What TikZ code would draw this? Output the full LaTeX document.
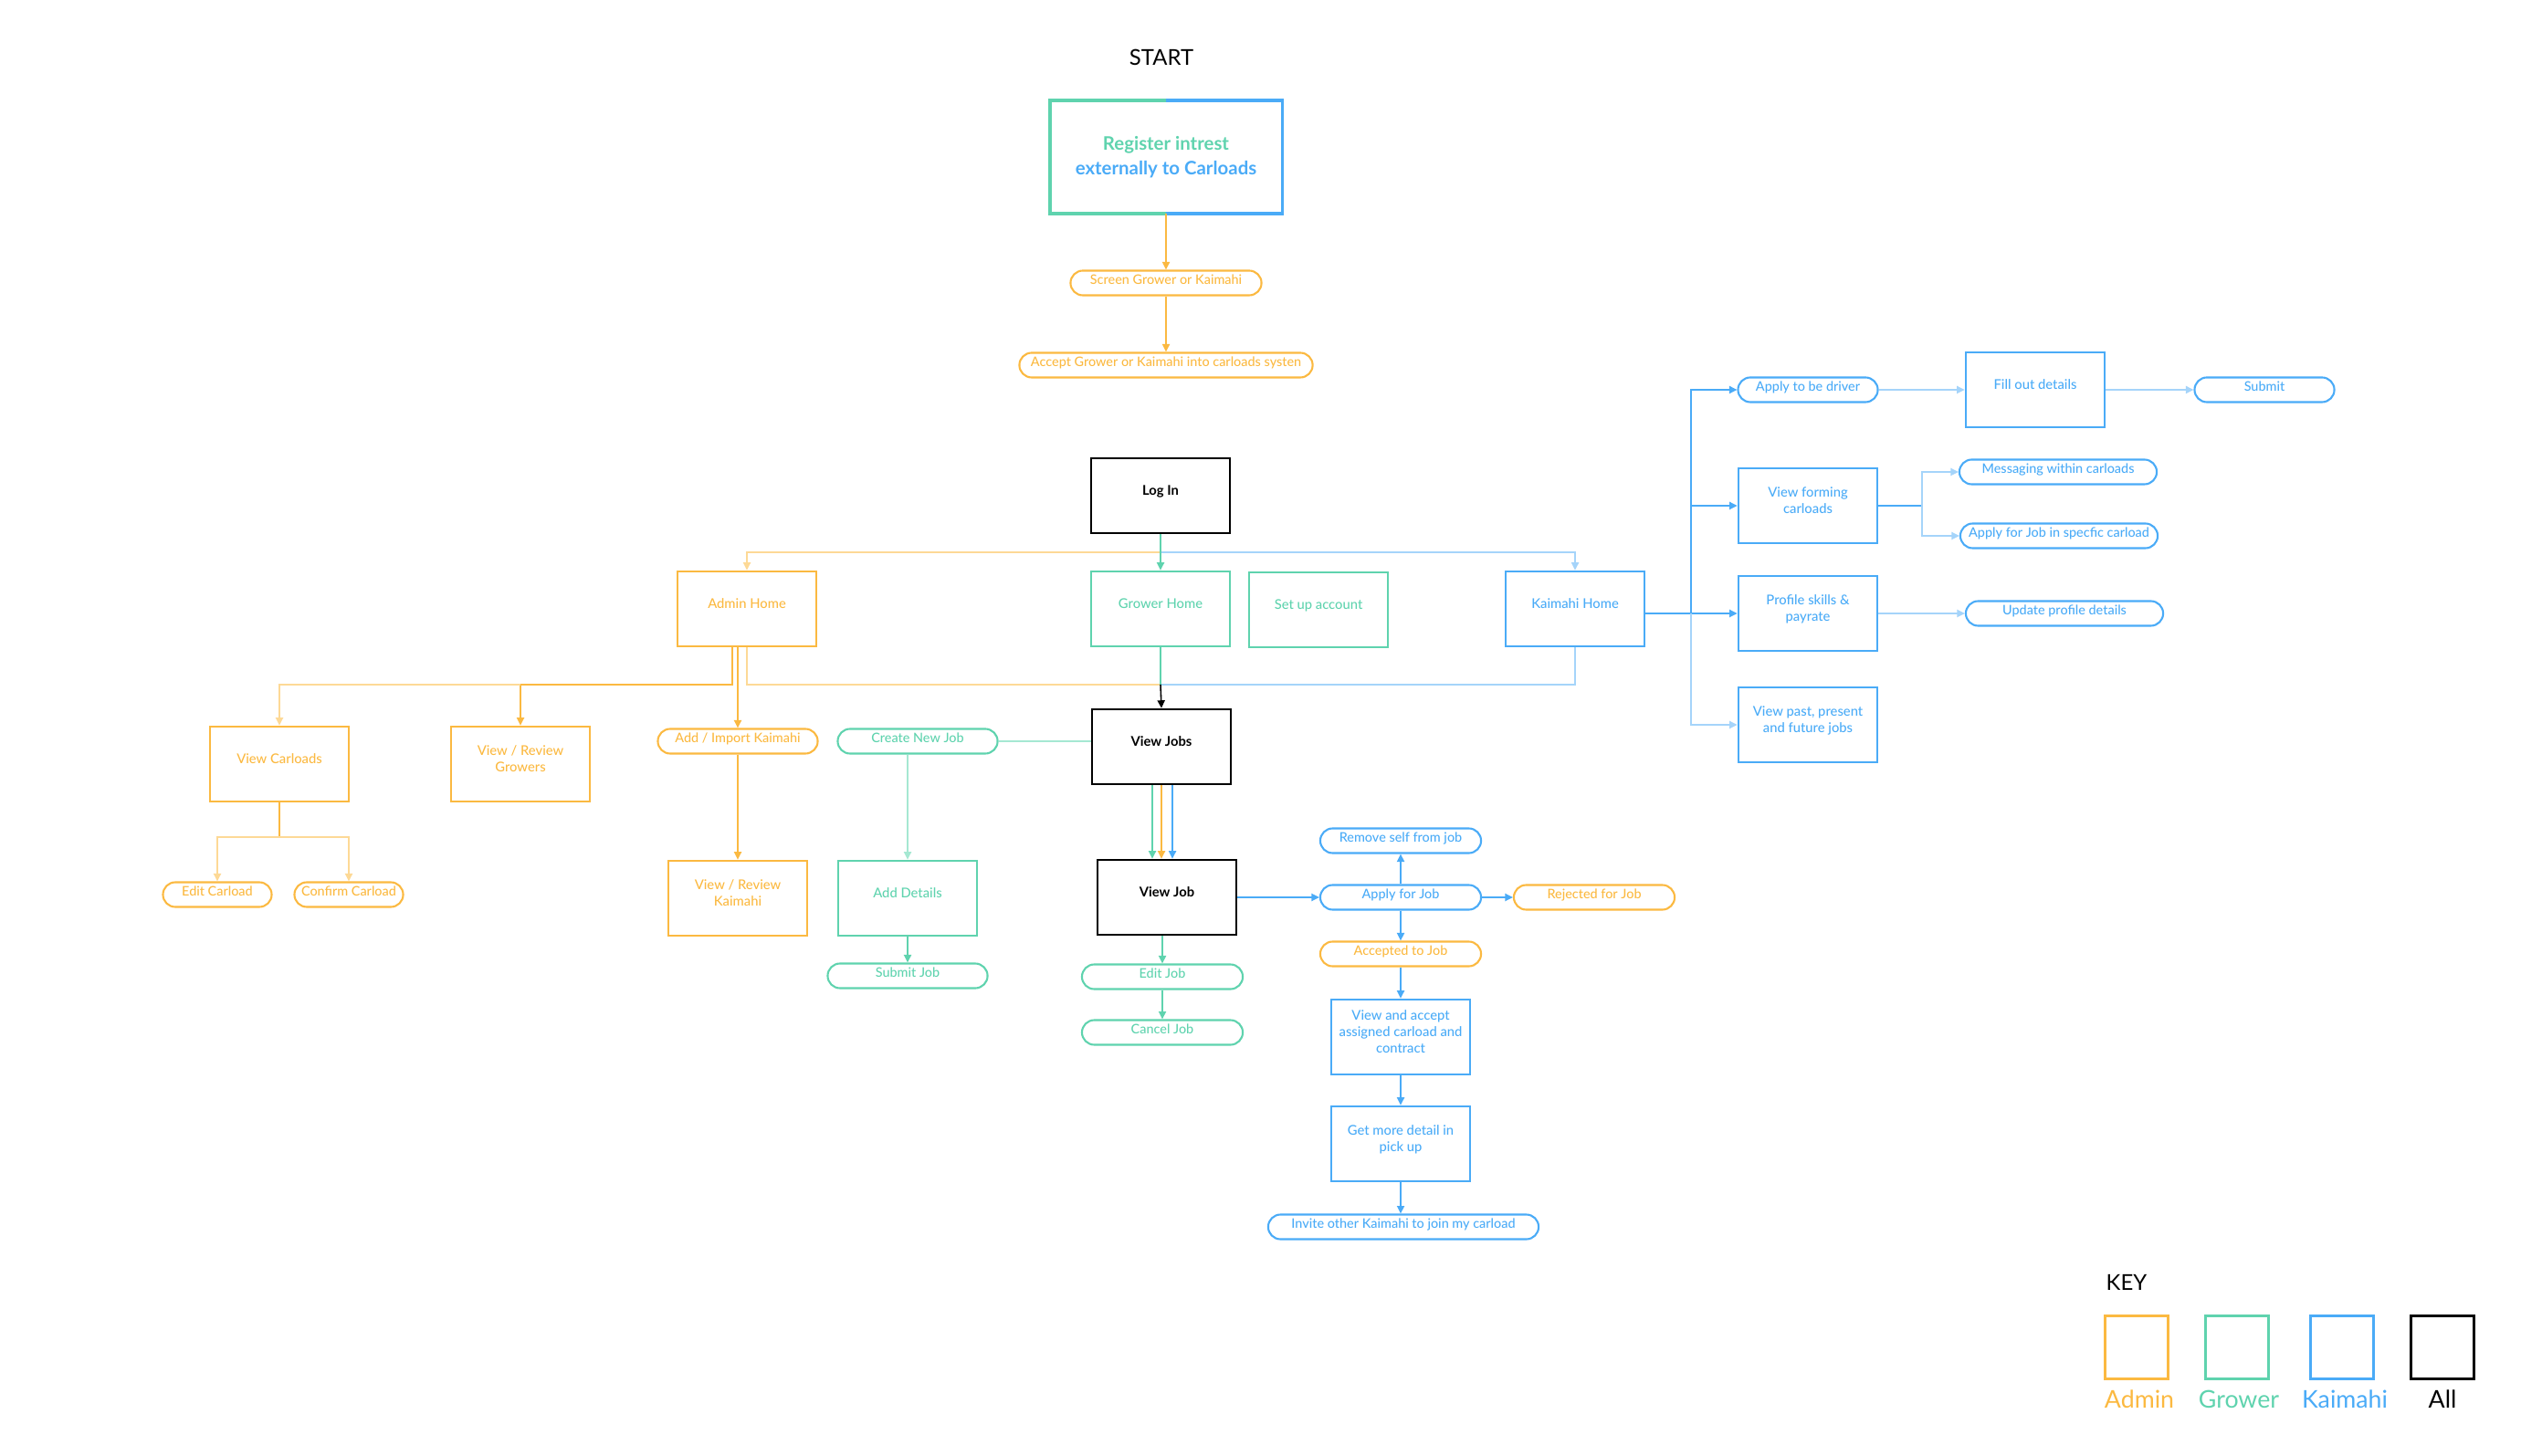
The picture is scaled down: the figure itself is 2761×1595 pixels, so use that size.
\documentclass[tikz,border=0pt]{standalone}
\usepackage{fontspec}
\setmainfont{Lato}
\newfontfamily\medfont{Lato Medium}
\usetikzlibrary{arrows.meta,calc}
\definecolor{adm}{RGB}{251,185,65}
\definecolor{admL}{RGB}{253,217,150}
\definecolor{gro}{RGB}{95,211,174}
\definecolor{groL}{RGB}{165,232,210}
\definecolor{kai}{RGB}{74,171,247}
\definecolor{kaiL}{RGB}{165,212,250}
\tikzset{
  box/.style={draw, line width=0.75pt, minimum width=1.52cm, minimum height=0.82cm,
    align=center, inner sep=0pt, text depth=3.4pt, font=\fontsize{4.2}{5.1}\selectfont\medfont},
  pill/.style={draw, line width=0.6pt, rounded corners=0.135cm, minimum height=0.27cm,
    inner sep=0pt, font=\fontsize{4.1}{5.1}\selectfont\medfont, text height=3.0pt, text depth=2.1pt},
  abox/.style={draw=adm, text=adm},
  gbox/.style={draw=gro, text=gro},
  kbox/.style={draw=kai, text=kai},
  xbox/.style={draw=black, text=black, font=\fontsize{4.2}{5.1}\selectfont\bfseries},
  conn/.style={line width=0.45pt},
  arr/.style={conn, -{Triangle[length=2.4pt,width=2.3pt]}},
  keysq/.style={draw, line width=0.75pt, minimum width=0.69cm, minimum height=0.69cm, inner sep=0pt},
  keylab/.style={font=\fontsize{7.6}{9}\selectfont, inner sep=0pt},
}
\begin{document}
\begin{tikzpicture}[x=0.01cm, y=-0.01cm]
\useasboundingbox (0,0) rectangle (2761,1595);

% ---- top
\node[font=\fontsize{6.8}{8}\selectfont, inner sep=0pt] (start) at (1272,63) {START};
\node[minimum width=2.53cm, minimum height=1.23cm, inner sep=0pt, align=center,
      font=\fontsize{5.8}{7.7}\selectfont\bfseries] (reg) at (1277,172)
      {\textcolor{gro}{Register intrest}\\\textcolor{kai}{externally to Carloads}};
\draw[gro, line width=1pt] (reg.north) -- (reg.north west) -- (reg.south west) -- (reg.south);
\draw[kai, line width=1pt] (reg.north) -- (reg.north east) -- (reg.south east) -- (reg.south);
\node[pill, abox, minimum width=2.09cm] (scr) at (1277,310) {Screen Grower or Kaimahi};
\node[pill, abox, minimum width=3.21cm] (acc) at (1277,400) {Accept Grower or Kaimahi into carloads systen};
\draw[arr, adm] (reg.south) -- (scr.north);
\draw[arr, adm] (scr.south) -- (acc.north);

% ---- login & homes
\node[box, xbox] (login) at (1271,543) {Log In};
\node[box, abox] (admin) at (818,667) {Admin Home};
\node[box, gbox] (grower) at (1271,667) {Grower Home};
\node[box, gbox] (setup) at (1444,668) {Set up account};
\node[box, kbox] (kaimahi) at (1725,667) {Kaimahi Home};
\coordinate (lj) at (1271,605);
\draw[arr, admL] (lj) -| (admin.north);
\draw[arr, kaiL] (lj) -| (kaimahi.north);
\draw[arr, gro] (login.south) -- (grower.north);

% ---- admin branches
\node[box, abox] (vc) at (306,837) {View Carloads};
\node[box, abox] (vg) at (570,837) {View / Review\\Growers};
\node[pill, abox, minimum width=1.75cm] (addk) at (808,812) {Add / Import Kaimahi};
\node[box, abox] (vk) at (808,984) {View / Review\\Kaimahi};
\node[pill, abox, minimum width=1.19cm] (ec) at (238,980) {Edit Carload};
\node[pill, abox, minimum width=1.19cm] (cc) at (382,980) {Confirm Carload};
\coordinate (busA) at (570,750);
\draw[conn, adm] ([xshift=-0.16cm]admin.south) |- (busA);
\draw[arr, adm] (busA) -- (vg.north);
\draw[arr, admL] (busA) -| (vc.north);
\draw[arr, adm] ([xshift=-0.1cm]admin.south) -- ([xshift=-0.1cm]admin.south |- addk.north);
\draw[arr, adm] (addk.south) -- (vk.north);
\coordinate (vcb) at (306,917);
\draw[conn, adm] (vc.south) -- (vcb);
\draw[arr, admL] (vcb) -| (ec.north);
\draw[arr, admL] (vcb) -| (cc.north);

% ---- jobs
\node[box, xbox] (vjs) at (1272,818) {View Jobs};
\coordinate (busJ) at (1271,750);
\draw[conn, admL] (admin.south) |- (busJ);
\draw[conn, kaiL] (kaimahi.south) |- (busJ);
\draw[conn, gro] (grower.south) -- (busJ);
\draw[arr, black] (busJ) -- (vjs.north);

\node[pill, gbox, minimum width=1.75cm] (cnj) at (1005,812) {Create New Job};
\node[box, gbox] (ad) at (994,984) {Add Details};
\node[pill, gbox, minimum width=1.75cm] (sj) at (994,1069) {Submit Job};
\draw[conn, groL, line width=0.8pt] (cnj.east) -- (cnj.east -| vjs.west);
\draw[arr, groL] (cnj.south -| ad.north) -- (ad.north);
\draw[arr, gro] (ad.south) -- (sj.north);

\node[box, xbox] (vj) at (1278,983) {View Job};
\draw[arr, gro] ([xshift=-0.1cm]vjs.south) -- ([xshift=-0.1cm]vjs.south |- vj.north);
\draw[arr, adm] (vjs.south) -- (vjs.south |- vj.north);
\draw[arr, kai] ([xshift=0.12cm]vjs.south) -- ([xshift=0.12cm]vjs.south |- vj.north);
\node[pill, gbox, minimum width=1.76cm] (ej) at (1273,1070) {Edit Job};
\node[pill, gbox, minimum width=1.76cm] (cj) at (1273,1131) {Cancel Job};
\draw[arr, gro] (vj.south -| ej.north) -- (ej.north);
\draw[arr, gro] (ej.south) -- (cj.north);

% ---- apply for job chain
\node[pill, kbox, minimum width=1.76cm] (rem) at (1534,921) {Remove self from job};
\node[pill, kbox, minimum width=1.76cm] (app) at (1534,983) {Apply for Job};
\node[pill, abox, minimum width=1.76cm] (rej) at (1746,983) {Rejected for Job};
\node[pill, abox, minimum width=1.76cm] (accj) at (1534,1045) {Accepted to Job};
\node[box, kbox] (vaa) at (1534,1136) {View and accept\\assigned carload and\\contract};
\node[box, kbox] (gmd) at (1534,1253) {Get more detail in\\pick up};
\node[pill, kbox, minimum width=2.96cm] (inv) at (1537,1344) {Invite other Kaimahi to join my carload};
\draw[arr, kai] (vj.east) -- (app.west);
\draw[arr, kai] (app.north) -- (rem.south);
\draw[arr, kai] (app.east) -- (rej.west);
\draw[arr, kai] (app.south) -- (accj.north);
\draw[arr, kai] (accj.south) -- (vaa.north);
\draw[arr, kai] (vaa.south) -- (gmd.north);
\draw[arr, kai] (gmd.south) -- (gmd.south |- inv.north);

% ---- kaimahi branches
\node[pill, kbox, minimum width=1.53cm] (driver) at (1980,427) {Apply to be driver};
\node[box, kbox] (fill) at (2229,427) {Fill out details};
\node[pill, kbox, minimum width=1.53cm] (submit) at (2480,427) {Submit};
\node[box, kbox] (forming) at (1980,554) {View forming\\carloads};
\node[pill, kbox, minimum width=2.16cm] (msg) at (2254,517) {Messaging within carloads};
\node[pill, kbox, minimum width=2.16cm] (afj) at (2255,587) {Apply for Job in specfic carload};
\node[box, kbox] (profile) at (1980,672) {Profile skills \&\\payrate};
\node[pill, kbox, minimum width=2.16cm] (update) at (2261,672) {Update profile details};
\node[box, kbox] (past) at (1980,794) {View past, present\\and future jobs};
\coordinate (kb) at (1852,672);
\draw[arr, kai] (kaimahi.east |- profile.west) -- (profile.west);
\draw[arr, kai] (kb) |- (driver.west);
\draw[arr, kai] (kb) |- (forming.west);
\draw[arr, kaiL] (kb) |- (past.west);
\draw[arr, kaiL] (driver.east) -- (fill.west);
\draw[arr, kaiL] (fill.east) -- (submit.west);
\draw[arr, kaiL] (profile.east) -- (update.west);
\coordinate (fb) at (2105,554);
\draw[conn, kai] (forming.east) -- (fb);
\draw[arr, kaiL] (fb) |- (msg.west);
\draw[arr, kaiL] (fb) |- (afj.west);

% ---- key
\node[font=\fontsize{6.8}{8}\selectfont, inner sep=0pt, anchor=west] (keyt) at (2306,1405) {KEY};
\node[keysq, draw=adm] (ka) at (2340,1476) {};
\node[keysq, draw=gro] (kg) at (2450,1476) {};
\node[keysq, draw=kai] (kk) at (2565,1476) {};
\node[keysq, draw=black] (kx) at (2675,1476) {};
\node[keylab, text=adm] (kal) at (2343,1533) {Admin};
\node[keylab, text=gro] (kgl) at (2452,1533) {Grower};
\node[keylab, text=kai] (kkl) at (2568,1533) {Kaimahi};
\node[keylab, text=black] (kxl) at (2675,1533) {All};
\end{tikzpicture}
\end{document}
